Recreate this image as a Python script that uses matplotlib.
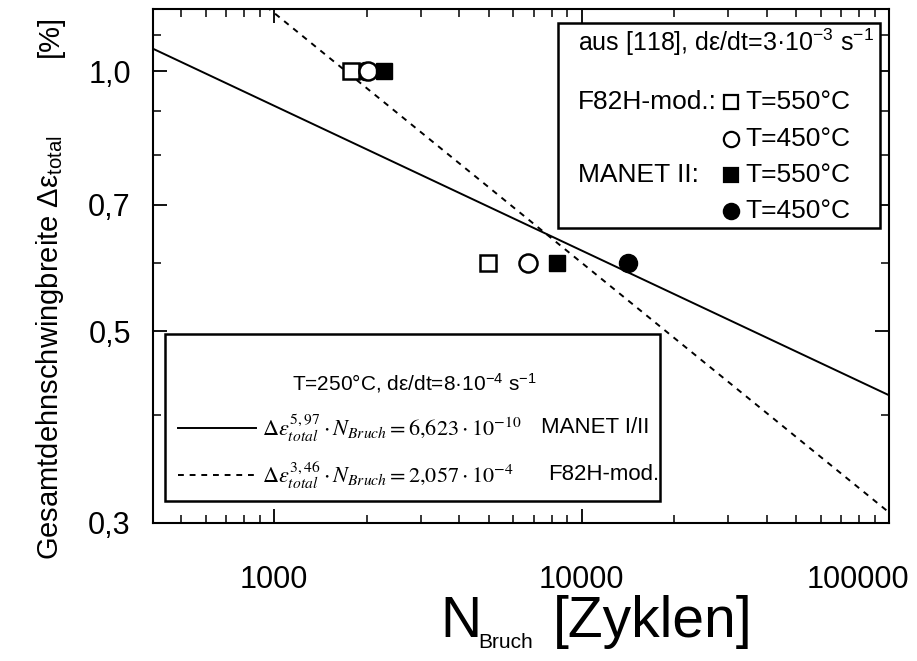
import numpy as np
import matplotlib
matplotlib.use("Agg")
import matplotlib.pyplot as plt
import matplotlib.transforms as mtrans
from matplotlib.lines import Line2D
from matplotlib.patches import Rectangle
from matplotlib.ticker import FixedLocator, NullFormatter

plt.rcParams['font.family'] = ['Liberation Sans', 'DejaVu Sans']
plt.rcParams['mathtext.fontset'] = 'custom'
plt.rcParams['mathtext.rm'] = 'Liberation Sans'
plt.rcParams['mathtext.it'] = 'Liberation Sans:italic'
plt.rcParams['mathtext.sf'] = 'Liberation Sans'

# Fatigue tests (aus [118]), total strain range in %
f82h_550_N = [1780, 4970]
f82h_550_eps = [1.0, 0.6]
f82h_450_N = [2020, 6700]
f82h_450_eps = [1.0, 0.6]
manet_550_N = [2280, 8320]
manet_550_eps = [1.0, 0.6]
manet_450_N = [1975, 14150]
manet_450_eps = [1.0, 0.6]

# Coffin-Manson type fits: eps^k * N = C (eps as absolute strain)
manet_k, manet_C = 5.97, 6.623e-10
f82h_k, f82h_C = 3.46, 2.057e-4

x_ticks = [1000, 10000, 100000]
x_tick_labels = ['1000', '10000', '100000']
y_ticks = [0.3, 0.5, 0.7, 1.0]
y_tick_labels = ['0,3', '0,5', '0,7', '1,0']
y_minor = [0.4, 0.6, 0.8, 0.9, 1.1]

W, H = 917, 661
AX_L, AX_R, AX_T, AX_B = 153, 889, 9, 523

fig = plt.figure(figsize=(W / 100, H / 100), dpi=100)
ax = fig.add_axes([AX_L / W, 1 - AX_B / H, (AX_R - AX_L) / W, (AX_B - AX_T) / H])
ax.set_xscale('log')
ax.set_yscale('log')
ax.set_xlim(404, 100000)
ax.set_ylim(0.3, 1.18)

N = np.logspace(np.log10(404), 5, 200)
ax.plot(N, 100 * (manet_C / N) ** (1 / manet_k), color='black', lw=1.4)
ax.plot(N, 100 * (f82h_C / N) ** (1 / f82h_k), color='black', lw=1.4,
        ls=(0, (3, 3)))

ms = 12
ax.plot(manet_450_N, manet_450_eps, 'o', ms=ms + 1, color='black', mec='black')
ax.plot(f82h_550_N, f82h_550_eps, 's', ms=ms, mfc='white', mec='black', mew=1.8)
ax.plot(f82h_450_N, f82h_450_eps, 'o', ms=ms + 1, mfc='white', mec='black', mew=1.8)
ax.plot(manet_550_N, manet_550_eps, 's', ms=ms, color='black')

ax.xaxis.set_major_locator(FixedLocator(x_ticks))
ax.set_xticklabels(x_tick_labels)
ax.yaxis.set_major_locator(FixedLocator(y_ticks))
ax.set_yticklabels(y_tick_labels)
ax.yaxis.set_minor_locator(FixedLocator(y_minor))
ax.yaxis.set_minor_formatter(NullFormatter())
ax.xaxis.set_minor_formatter(NullFormatter())
ax.tick_params(which='both', direction='in', top=True, right=True, labelsize=22)
ax.tick_params(which='major', length=10, width=1.3)
ax.tick_params(which='minor', length=6, width=1.1)
ax.tick_params(axis='x', pad=30)
ax.tick_params(axis='y', pad=16)
for s in ax.spines.values():
    s.set_linewidth(1.5)
xl = ax.get_xticklabels()
xl[-1].set_horizontalalignment('right')
xl[-1].set_transform(xl[-1].get_transform() +
                     mtrans.ScaledTranslation(0.2, 0, fig.dpi_scale_trans))


def fig_xy(px, py):
    return px / W, 1 - py / H


# axis titles
fig.text(*fig_xy(440, 622), 'N', fontsize=41, ha='left', va='center')
fig.text(*fig_xy(478, 643), 'Bruch', fontsize=15, ha='left', va='center')
fig.text(*fig_xy(553, 622), '[Zyklen]', fontsize=41, ha='left', va='center')
fig.text(*fig_xy(50, 560),
         'Gesamtdehnschwingbreite \u0394\u03b5$_{\\mathrm{total}}$',
         fontsize=21, rotation=90, rotation_mode='anchor', ha='left', va='center')
fig.text(*fig_xy(50, 15), '[%]', fontsize=21, rotation=90,
         rotation_mode='anchor', ha='right', va='center')


def ax_xy(px, py):
    return ((px - AX_L) / (AX_R - AX_L), (AX_B - py) / (AX_B - AX_T))


# box with fit equations
x0, y0 = ax_xy(165, 501)
x1, y1 = ax_xy(660, 334)
ax.add_patch(Rectangle((x0, y0), x1 - x0, y1 - y0, transform=ax.transAxes,
                       fill=True, fc='white', ec='black', lw=1.8, zorder=5))
tx, ty = ax_xy(414, 383)
ax.text(tx, ty, 'T=250°C, d\u03b5/dt=8\u00b710$^{-4}$ s$^{-1}$', transform=ax.transAxes,
        fontsize=15, ha='center', va='center', zorder=6)
for row_y, style, eq, name, name_x in [
        (428, '-', r'$\Delta\varepsilon^{5,97}_{total}\cdot N_{Bruch} = 6{,}623\cdot 10^{-10}$',
         'MANET I/II', 541),
        (475, (0, (3, 3)), r'$\Delta\varepsilon^{3,46}_{total}\cdot N_{Bruch} = 2{,}057\cdot 10^{-4}$',
         'F82H-mod.', 548)]:
    la, ly = ax_xy(178, row_y)
    lb, _ = ax_xy(256, row_y)
    ax.add_line(Line2D([la, lb], [ly, ly], transform=ax.transAxes, color='black',
                       lw=1.4, ls=style, zorder=6))
    ex, _ = ax_xy(262, row_y)
    ax.text(ex, ly, eq, transform=ax.transAxes, fontsize=16, ha='left',
            va='center', zorder=6, math_fontfamily='stix')
    nx, _ = ax_xy(name_x, row_y)
    ax.text(nx, ly, name, transform=ax.transAxes, fontsize=16, ha='left',
            va='center', zorder=6)

# box with symbol key
x0, y0 = ax_xy(558, 228)
x1, y1 = ax_xy(880, 23)
ax.add_patch(Rectangle((x0, y0), x1 - x0, y1 - y0, transform=ax.transAxes,
                       fill=True, fc='white', ec='black', lw=1.8, zorder=5))
tx, ty = ax_xy(578, 42)
ax.text(tx, ty, 'aus [118], d\u03b5/dt=3\u00b710$^{-3}$ s$^{-1}$', transform=ax.transAxes,
        fontsize=18, ha='left', va='center', zorder=6)
key = [(102, 'F82H-mod.:', 's', 'white', 'T=550°C'),
       (139, '', 'o', 'white', 'T=450°C'),
       (175, 'MANET II:', 's', 'black', 'T=550°C'),
       (211, '', 'o', 'black', 'T=450°C')]
for row_y, grp, mk, fc, lab in key:
    gx, gy = ax_xy(578, row_y)
    if grp:
        ax.text(gx, gy, grp, transform=ax.transAxes, fontsize=19, ha='left',
                va='center', zorder=6)
    mx, _ = ax_xy(731, row_y)
    ax.plot([mx], [gy], mk, transform=ax.transAxes, ms=10 if mk == 's' else 11,
            mfc=fc, mec='black', mew=1.6, zorder=6, clip_on=False)
    lx, _ = ax_xy(745, row_y)
    ax.text(lx, gy, lab, transform=ax.transAxes, fontsize=19, ha='left',
            va='center', zorder=6)

fig.savefig('out.png', dpi=100)
